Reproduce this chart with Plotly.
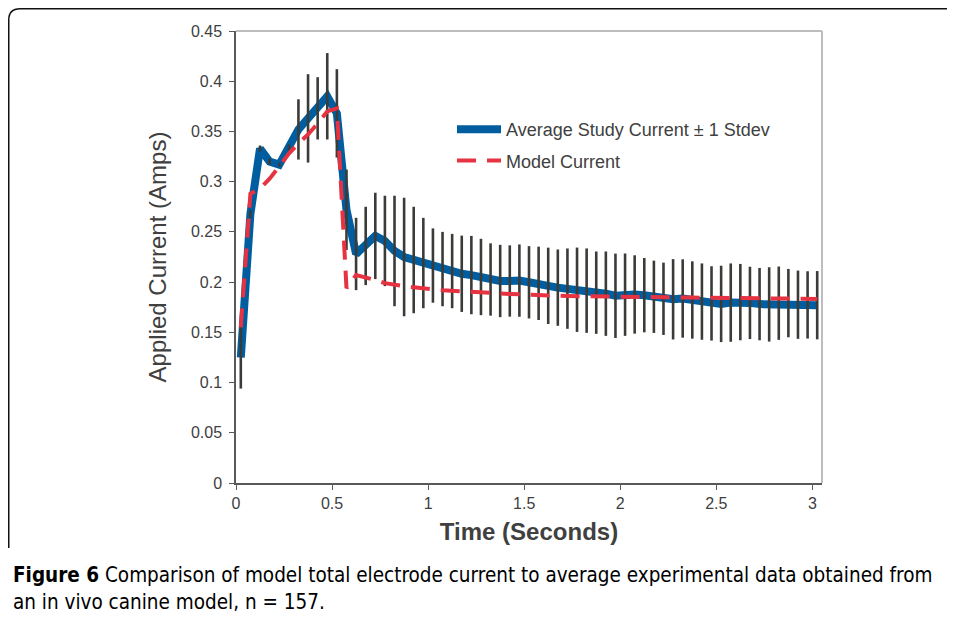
import plotly.graph_objects as go

# bin-centre times (s)
time_s = [0.025, 0.075, 0.125, 0.175, 0.225, 0.275, 0.325, 0.375, 0.425, 0.475,
          0.525, 0.575, 0.625, 0.675, 0.725, 0.775, 0.825, 0.875, 0.925, 0.975,
          1.025, 1.075, 1.125, 1.175, 1.225, 1.275, 1.325, 1.375, 1.425, 1.475,
          1.525, 1.575, 1.625, 1.675, 1.725, 1.775, 1.825, 1.875, 1.925, 1.975,
          2.025, 2.075, 2.125, 2.175, 2.225, 2.275, 2.325, 2.375, 2.425, 2.475,
          2.525, 2.575, 2.625, 2.675, 2.725, 2.775, 2.825, 2.875, 2.925, 2.975,
          3.025]

avg_current = [0.125, 0.268, 0.333, 0.320, 0.317, 0.334, 0.352, 0.363, 0.373, 0.385,
               0.368, 0.272, 0.228, 0.236, 0.246, 0.241, 0.231, 0.225, 0.222, 0.219,
               0.2165, 0.213, 0.211, 0.2083, 0.207, 0.2051, 0.2026, 0.2011, 0.2011, 0.2015,
               0.1998, 0.1988, 0.1963, 0.1945, 0.1935, 0.1924, 0.1915, 0.1895, 0.1885, 0.1864,
               0.1875, 0.1877, 0.187, 0.1854, 0.1834, 0.1829, 0.1837, 0.1822, 0.1806, 0.1788,
               0.1783, 0.1796, 0.1801, 0.1793, 0.1781, 0.1778, 0.179, 0.1791, 0.1775, 0.1773,
               0.177]

stdev_current = [0.031, 0.004, 0.003, 0.003, 0.002, 0.003, 0.030, 0.044, 0.031, 0.043,
                 0.044, 0.040, 0.036, 0.039, 0.043, 0.045, 0.055, 0.059, 0.053, 0.045,
                 0.037, 0.037, 0.037, 0.038, 0.039, 0.038, 0.036, 0.036, 0.0355, 0.036,
                 0.036, 0.0365, 0.038, 0.038, 0.040, 0.042, 0.042, 0.041, 0.042, 0.042,
                 0.041, 0.039, 0.037, 0.036, 0.036, 0.040, 0.039, 0.0385, 0.038, 0.037,
                 0.038, 0.039, 0.038, 0.036, 0.036, 0.037, 0.0365, 0.034, 0.034, 0.0335,
                 0.034]

model_current = [0.155, 0.288, 0.293, 0.303, 0.315, 0.328, 0.338, 0.347, 0.358, 0.370,
                 0.373, 0.194, 0.207, 0.205, 0.202, 0.199, 0.1972, 0.196, 0.1948, 0.1935,
                 0.1928, 0.192, 0.1913, 0.1908, 0.1902, 0.1897, 0.1892, 0.1887, 0.1882, 0.1877,
                 0.1873, 0.1869, 0.1866, 0.1864, 0.1862, 0.186, 0.1858, 0.1856, 0.1854, 0.1852,
                 0.1851, 0.185, 0.1849, 0.1848, 0.1848, 0.1847, 0.1847, 0.1846, 0.1846, 0.1846,
                 0.1845, 0.1845, 0.1845, 0.1844, 0.1843, 0.1841, 0.1839, 0.1836, 0.1834, 0.1833,
                 0.1832]

# page body has an 8px margin, so the figure sits at (8, 8) in the window
O = 8
W, H = 955, 617
L, T = 236 - O, 31 - O
PW, PH = 586, 452
R, B = W - L - PW, H - T - PH


def px(xw):
    # window x pixel -> paper x
    return (xw - O - L) / PW


def py(yw):
    # window y pixel -> paper y
    return (H - B - (yw - O)) / PH


font = "Liberation Sans, Arial, sans-serif"
cap_font = "Liberation Sans Narrow, DejaVu Sans Condensed, Arial Narrow, sans-serif"
grey = "#404040"

fig = go.Figure()
fig.add_trace(go.Scatter(x=time_s, y=avg_current, mode="lines",
                         name="Average Study Current \u00b1 1 Stdev",
                         line=dict(color="#005EA0", width=8), legendgroup="a"))
fig.add_trace(go.Scatter(x=time_s, y=avg_current, mode="markers", showlegend=False,
                         marker=dict(color="rgba(0,0,0,0)", size=1), hoverinfo="skip",
                         error_y=dict(type="data", array=stdev_current, width=0,
                                      thickness=2.6, color="#3b3b37")))
fig.add_trace(go.Scatter(x=time_s, y=model_current, mode="lines", name="Model Current",
                         line=dict(color="#E63241", width=4, dash="19px,11px"),
                         legendgroup="b"))

frame = (f"M {px(8.75)},{py(548)} L {px(8.75)},{py(20)} "
         f"Q {px(8.75)},{py(8.75)} {px(20)},{py(8.75)} L {px(970)},{py(8.75)}")

fig.update_layout(
    width=W, height=H,
    margin=dict(l=L, r=R, t=T, b=B),
    paper_bgcolor="white", plot_bgcolor="white",
    font=dict(family=font, color=grey),
    showlegend=True,
    legend=dict(x=px(452), y=py(111), xanchor="left", yanchor="top",
                bgcolor="rgba(0,0,0,0)", font=dict(size=18, color=grey),
                traceorder="grouped", tracegroupgap=5, itemwidth=44),
    xaxis=dict(range=[0, 3.05], dtick=0.5, tick0=0, showgrid=False, zeroline=False,
               showline=True, linecolor="#595959", linewidth=1.5,
               ticks="outside", ticklen=5, tickcolor="#595959",
               tickfont=dict(size=16, color=grey),
               title=dict(text="<b>Time (Seconds)</b>", font=dict(size=24, color=grey),
                          standoff=12)),
    yaxis=dict(range=[0, 0.45], dtick=0.05, tick0=0, showgrid=False, zeroline=False,
               showline=True, linecolor="#595959", linewidth=1.5,
               ticks="outside", ticklen=5, tickcolor="#595959", ticklabelstandoff=4,
               tickfont=dict(size=16, color=grey),
               title=dict(text="Applied Current (Amps)", font=dict(size=24, color=grey),
                          standoff=18)),
    shapes=[
        # light plot-area border on top and right
        dict(type="line", xref="paper", yref="paper", x0=0, x1=1, y0=1, y1=1,
             line=dict(color="#BDBDBD", width=2)),
        dict(type="line", xref="paper", yref="paper", x0=1, x1=1, y0=0, y1=1,
             line=dict(color="#BDBDBD", width=2)),
        dict(type="path", xref="paper", yref="paper", path=frame,
             line=dict(color="#111111", width=1.5)),
    ],
    annotations=[
        dict(xref="paper", yref="paper", x=px(11), y=py(575), xanchor="left",
             yanchor="middle", showarrow=False,
             text="<b>Figure 6</b> Comparison of model total electrode current to average "
                  "experimental data obtained from",
             font=dict(family=cap_font, size=20.5, color="black")),
        dict(xref="paper", yref="paper", x=px(11), y=py(602), xanchor="left",
             yanchor="middle", showarrow=False,
             text="an in vivo canine model, n = 157.",
             font=dict(family=cap_font, size=20.5, color="black")),
    ],
)

fig.write_html("out.html")
